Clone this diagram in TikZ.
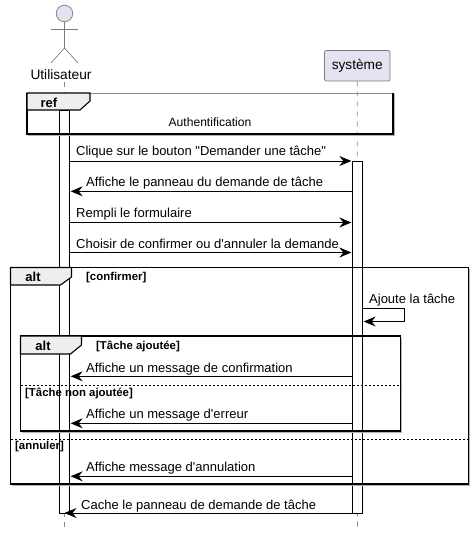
\documentclass[tikz,border=0pt]{standalone}
\usepackage{fontspec}
\setmainfont{Liberation Sans}[Ligatures=TeXOff]
\usetikzlibrary{arrows.meta}
\definecolor{partfill}{HTML}{E2E2F0}
\definecolor{partline}{HTML}{7A7A80}
\definecolor{tabfill}{HTML}{EEEEEE}
\definecolor{lifegray}{HTML}{8A8A8A}
\tikzset{
  lifeline/.style={draw=lifegray,line width=.7pt,dash pattern=on 5pt off 5pt},
  actorline/.style={draw=partline,line width=.7pt},
  bar/.style={draw=black,fill=white,line width=.9pt,minimum width=10pt,inner sep=0pt,anchor=north},
  msg/.style={draw=black,line width=.9pt,-{Stealth[length=12pt,width=10pt,inset=4pt]},shorten >=.7pt},
  msgtext/.style={font=\fontsize{13}{15}\selectfont,anchor=base west,inner sep=0pt},
  guard/.style={font=\fontsize{11.4}{13}\selectfont\bfseries,anchor=base west,inner sep=0pt},
  tabtext/.style={font=\fontsize{13}{15}\selectfont\bfseries,inner sep=0pt},
  frameline/.style={draw=black,line width=1.1pt},
  frameshadow/.style={draw=gray!60,line width=1pt},
  tabshape/.style={draw=black,fill=tabfill,line width=1.1pt},
  divider/.style={draw=black,line width=.7pt,dash pattern=on 2pt off 2pt},
}
\begin{document}
\begin{tikzpicture}[x=1pt,y=-1pt]
\useasboundingbox (0,0) rectangle (474,537);
% lifelines
\coordinate (ubot) at (64.5,527);
\coordinate (sbot) at (357.5,527);
\node[draw=partline,fill=partfill,rounded corners=2pt,line width=.7pt,minimum width=65.5pt,minimum height=30.5pt,inner sep=0pt,font=\fontsize{13.7}{15}\selectfont] (sys) at (357.25,65.75) {système};
\node[inner sep=0pt,font=\fontsize{13.7}{15}\selectfont] (user) at (61,75) {Utilisateur};
\draw[lifeline] (64.5,82) -- (ubot);
\draw[lifeline] (sys.south) -- (sbot);
% actor
\node[circle,draw=partline,fill=partfill,line width=.7pt,minimum size=16.5pt,inner sep=0pt] (head) at (64.5,13.5) {};
\coordinate (hip) at (64.5,48);
\draw[actorline] (head.south) -- (hip);
\draw[actorline] (51,29.3) -- (78,29.3);
\draw[actorline] (51,63) -- (hip) -- (78,63);
% activations
\node[bar,minimum height=403pt] (ubar) at (64.5,110) {};
\node[bar,minimum height=352pt] (sbar) at (357.5,161) {};
% ref frame
\draw[frameshadow] (394.3,94) -- (394.3,135.3) -- (28,135.3);
\draw[draw=lifegray,line width=.7pt] (27,93) -- (393,93);
\draw[frameline] (393,93) -- (393,134) -- (27,134) -- (27,93);
\draw[tabshape] (27,93) -- (90,93) -- (90,101) -- (80,110) -- (27,110) -- cycle;
\node[tabtext] (reftab) at (49,103) {ref};
\node[inner sep=0pt,font=\fontsize{12.1}{14}\selectfont] (auth) at (210,122.5) {Authentification};
% outer alt
\draw[frameshadow] (469.8,269) -- (469.8,485.3) -- (12,485.3);
\draw[frameline] (10.5,267.5) rectangle (468.5,484);
\draw[tabshape] (10.5,267.5) -- (71.5,267.5) -- (71.5,277) -- (60.5,285) -- (10.5,285) -- cycle;
\node[tabtext] (alta) at (33,277) {alt};
\node[guard] (gconf) at (86,280.5) {[confirmer]};
% inner alt
\draw[frameshadow] (401.8,337.5) -- (401.8,432.3) -- (22,432.3);
\draw[frameline] (20.5,336) rectangle (400.5,431);
\draw[tabshape] (20.5,336) -- (81.5,336) -- (81.5,345) -- (70.5,354) -- (20.5,354) -- cycle;
\node[tabtext] (altb) at (43,345.5) {alt};
\node[guard] (gajout) at (96,349) {[Tâche ajoutée]};
% dividers
\draw[divider] (20.5,385.5) -- (400.5,385.5);
\draw[divider] (10.5,439) -- (468.5,439);
\node[guard] (gnon) at (25,396.5) {[Tâche non ajoutée]};
\node[guard] (gann) at (15,449.5) {[annuler]};
% message rows
\coordinate (r1) at (0,161);
\coordinate (r2) at (0,191.3);
\coordinate (r3) at (0,222.5);
\coordinate (r4) at (0,252.5);
\coordinate (r5) at (0,376.3);
\coordinate (r6) at (0,423.3);
\coordinate (r7) at (0,476.3);
\coordinate (r8) at (0,513);
\draw[msg] (ubar.east |- r1) -- (sbar.west |- r1);
\draw[msg] (sbar.west |- r2) -- (ubar.east |- r2);
\draw[msg] (ubar.east |- r3) -- (sbar.west |- r3);
\draw[msg] (ubar.east |- r4) -- (sbar.west |- r4);
\draw[msg] (sbar.west |- r5) -- (ubar.east |- r5);
\draw[msg] (sbar.west |- r6) -- (ubar.east |- r6);
\draw[msg] (sbar.west |- r7) -- (ubar.east |- r7);
\draw[msg,shorten >=0pt] (sbar.west |- r8) -- (64.5,513);
\coordinate (selfa) at (404.5,308.5);
\coordinate (selfb) at (404.5,321.5);
\draw[msg] (sbar.east |- selfa) -- (selfa) -- (selfb) -- (sbar.east |- selfb);
% labels
\node[msgtext] (t1) at (76,156) {Clique sur le bouton "Demander une tâche"};
\node[msgtext] (t2) at (86,187) {Affiche le panneau du demande de tâche};
\node[msgtext] (t3) at (76,217) {Rempli le formulaire};
\node[msgtext] (t4) at (76,248) {Choisir de confirmer ou d'annuler la demande};
\node[msgtext] (t5) at (369,303) {Ajoute la tâche};
\node[msgtext] (t6) at (86,372) {Affiche un message de confirmation};
\node[msgtext] (t7) at (86,418) {Affiche un message d'erreur};
\node[msgtext] (t8) at (86,471) {Affiche message d'annulation};
\node[msgtext] (t9) at (81,509) {Cache le panneau de demande de tâche};
\end{tikzpicture}
\end{document}
